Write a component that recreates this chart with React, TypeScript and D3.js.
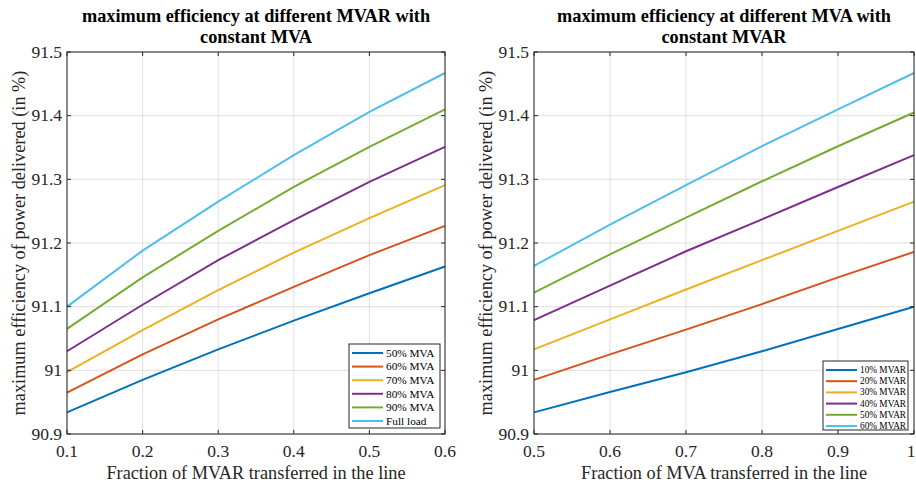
import * as d3 from "d3";

// x values of both panels
const mvarFraction = [0.1, 0.2, 0.3, 0.4, 0.5, 0.6];
const mvaFraction = [0.5, 0.6, 0.7, 0.8, 0.9, 1.0];

// left panel: constant MVA, varying MVAR
const leftNames = ["50% MVA", "60% MVA", "70% MVA", "80% MVA", "90% MVA", "Full load"];
const mva50 = [90.934, 90.985, 91.033, 91.078, 91.121, 91.163];
const mva60 = [90.965, 91.025, 91.08, 91.131, 91.181, 91.227];
const mva70 = [90.997, 91.063, 91.126, 91.185, 91.239, 91.291];
const mva80 = [91.03, 91.103, 91.173, 91.236, 91.296, 91.351];
const mva90 = [91.065, 91.146, 91.219, 91.288, 91.351, 91.41];
const mvaFull = [91.1, 91.188, 91.265, 91.338, 91.406, 91.467];

// right panel: constant MVAR, varying MVA
const rightNames = ["10% MVAR", "20% MVAR", "30% MVAR", "40% MVAR", "50% MVAR", "60% MVAR"];
const mvar10 = [90.934, 90.966, 90.997, 91.03, 91.065, 91.1];
const mvar20 = [90.985, 91.025, 91.064, 91.104, 91.146, 91.186];
const mvar30 = [91.033, 91.08, 91.127, 91.173, 91.219, 91.265];
const mvar40 = [91.079, 91.133, 91.187, 91.237, 91.288, 91.338];
const mvar50 = [91.122, 91.182, 91.24, 91.297, 91.352, 91.405];
const mvar60 = [91.164, 91.229, 91.291, 91.352, 91.41, 91.467];

const yTicks = [90.9, 91, 91.1, 91.2, 91.3, 91.4, 91.5];

const colors = ["#0072BD", "#D95319", "#EDB120", "#7E2F8E", "#77AC30", "#4DBEEE"];
const axisColor = "#262626";
const gridColor = "#dfdfdf";
const font = "'Liberation Serif', 'Times New Roman', serif";

type PanelProps = {
  left: number;
  right: number;
  titleLines: string[];
  xLabel: string;
  xs: number[];
  series: number[][];
  names: string[];
  legend: { x: number; y: number; w: number; h: number; row: number; size: number; line: number };
};

const top = 52;
const bottom = 434;

const fmt = (d: number) => String(+d.toFixed(1));

const Panel = ({ left, right, titleLines, xLabel, xs, series, names, legend }: PanelProps) => {
  const x = d3.scaleLinear().domain([xs[0], xs[xs.length - 1]]).range([left, right]);
  const y = d3.scaleLinear().domain([90.9, 91.5]).range([bottom, top]);
  const line = d3.line<number>().x((_, i) => x(xs[i])).y((v) => y(v));
  const cx = (left + right) / 2;
  const tick = 4;

  return (
    <g fontFamily={font}>
      {/* grid */}
      {xs.map((t) => (
        <line key={"gx" + t} x1={x(t)} x2={x(t)} y1={top} y2={bottom} stroke={gridColor} strokeWidth={1} />
      ))}
      {yTicks.map((t) => (
        <line key={"gy" + t} x1={left} x2={right} y1={y(t)} y2={y(t)} stroke={gridColor} strokeWidth={1} />
      ))}

      {/* series */}
      {series.map((s, i) => (
        <path key={names[i]} d={line(s) ?? ""} fill="none" stroke={colors[i]} strokeWidth={2} />
      ))}

      {/* box and ticks */}
      <rect x={left} y={top} width={right - left} height={bottom - top} fill="none" stroke={axisColor} strokeWidth={1} />
      {xs.map((t) => (
        <g key={"tx" + t}>
          <line x1={x(t)} x2={x(t)} y1={bottom} y2={bottom - tick} stroke={axisColor} />
          <line x1={x(t)} x2={x(t)} y1={top} y2={top + tick} stroke={axisColor} />
          <text x={Math.min(x(t), 911)} y={bottom + 23} textAnchor="middle" fontSize={17.5} fill={axisColor}>
            {fmt(t)}
          </text>
        </g>
      ))}
      {yTicks.map((t) => (
        <g key={"ty" + t}>
          <line x1={left} x2={left + tick} y1={y(t)} y2={y(t)} stroke={axisColor} />
          <line x1={right} x2={right - tick} y1={y(t)} y2={y(t)} stroke={axisColor} />
          <text x={left - 5} y={y(t)} dy="0.33em" textAnchor="end" fontSize={17.5} fill={axisColor}>
            {fmt(t)}
          </text>
        </g>
      ))}

      {/* labels */}
      <text x={cx} y={479} textAnchor="middle" fontSize={18.3} fill={axisColor}>
        {xLabel}
      </text>
      <text transform={`translate(${left - 42},${(top + bottom) / 2}) rotate(-90)`} textAnchor="middle" fontSize={18.3} fill={axisColor}>
        maximum efficiency of power delivered (in %)
      </text>
      {titleLines.map((l, i) => (
        <text key={l} x={cx} y={21.5 + i * 21} textAnchor="middle" fontSize={18.3} fontWeight="bold" fill="#000">
          {l}
        </text>
      ))}

      {/* legend */}
      <rect x={legend.x} y={legend.y} width={legend.w} height={legend.h} fill="#fff" stroke={axisColor} strokeWidth={1} />
      {names.map((n, i) => {
        const ly = legend.y + 9 + i * legend.row;
        return (
          <g key={"lg" + n}>
            <line x1={legend.x + 3} x2={legend.x + 3 + legend.line} y1={ly} y2={ly} stroke={colors[i]} strokeWidth={2} />
            <text x={legend.x + 6 + legend.line} y={ly} dy="0.33em" fontSize={legend.size} fill="#000">
              {n}
            </text>
          </g>
        );
      })}
    </g>
  );
};

export default function App() {
  return (
    <svg width={916} height={483} style={{ position: "absolute", left: 0, top: 0, background: "#fff" }}>
      <rect width={916} height={483} fill="#fff" />
      <Panel
        left={67}
        right={445}
        titleLines={["maximum efficiency at different MVAR with", "constant MVA"]}
        xLabel="Fraction of MVAR transferred in the line"
        xs={mvarFraction}
        series={[mva50, mva60, mva70, mva80, mva90, mvaFull]}
        names={leftNames}
        legend={{ x: 349, y: 344, w: 91, h: 84, row: 13.6, size: 11.3, line: 31 }}
      />
      <Panel
        left={534}
        right={914}
        titleLines={["maximum efficiency at different MVA with", "constant MVAR"]}
        xLabel="Fraction of MVA transferred in the line"
        xs={mvaFraction}
        series={[mvar10, mvar20, mvar30, mvar40, mvar50, mvar60]}
        names={rightNames}
        legend={{ x: 823, y: 361, w: 85, h: 69, row: 11.2, size: 9.3, line: 31 }}
      />
    </svg>
  );
}
